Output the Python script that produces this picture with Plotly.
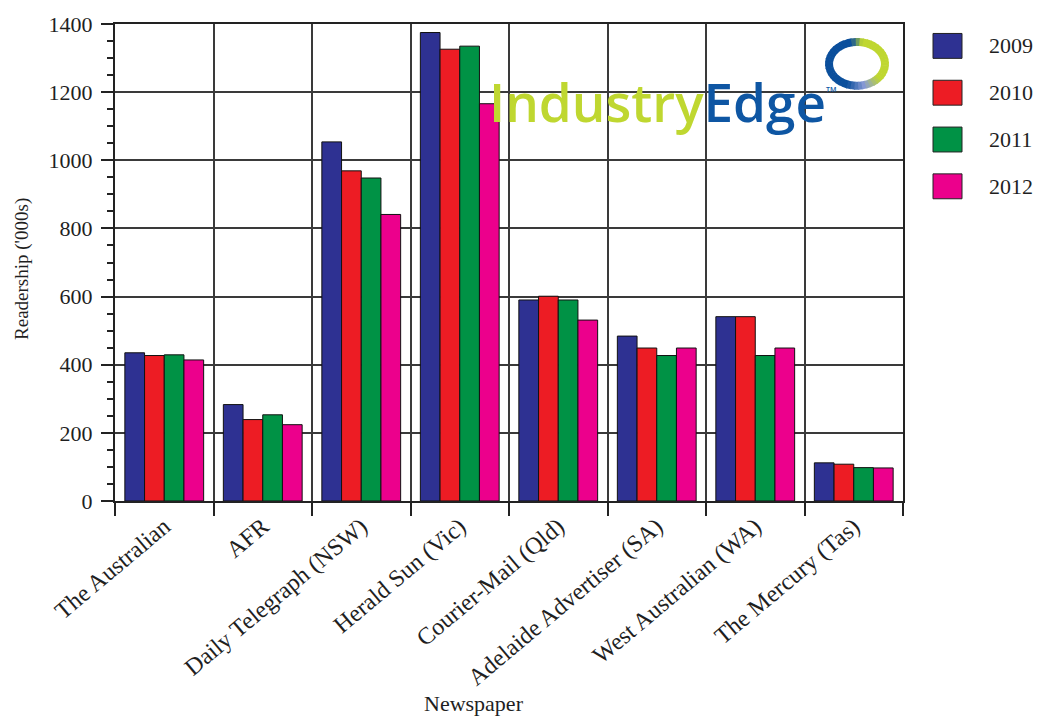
import plotly.graph_objects as go
import numpy as np

# ---------------- data ----------------
categories = ["The Australian", "AFR", "Daily Telegraph (NSW)", "Herald Sun (Vic)",
              "Courier-Mail (Qld)", "Adelaide Advertiser (SA)", "West Australian (WA)",
              "The Mercury (Tas)"]
years = ["2009", "2010", "2011", "2012"]
r2009 = [435, 283, 1054, 1375, 590, 484, 541, 112]
r2010 = [427, 239, 969, 1326, 601, 449, 541, 108]
r2011 = [429, 253, 948, 1335, 590, 427, 427, 98]
r2012 = [414, 224, 841, 1166, 531, 449, 449, 97]
series = [r2009, r2010, r2011, r2012]
colors = ["#2E3192", "#ED1C24", "#009245", "#EC008C"]
y_ticks = [0, 200, 400, 600, 800, 1000, 1200, 1400]

# ---------------- layout geometry ----------------
W, H = 1045, 717
ML, MR, MT, MB = 115, 142, 22, 216
PW, PH = W - ML - MR, H - MT - MB


def px(x):
    return (x - ML) / PW


def py(y):
    return (H - MB - y) / PH


SERIF = "Liberation Serif"
TXT = "#1f1f1f"

fig = go.Figure()
for name, vals, col in zip(years, series, colors):
    fig.add_trace(go.Bar(
        x=categories, y=vals, name=name, showlegend=False,
        marker=dict(color=col, line=dict(color="#111", width=1)),
    ))

shapes = []
annotations = []

# manual legend
for i, (name, col) in enumerate(zip(years, colors)):
    cy = 44 + 47 * i
    shapes.append(dict(type="rect", xref="paper", yref="paper",
                       x0=px(933), x1=px(962), y0=py(cy + 12.5), y1=py(cy - 12.5),
                       fillcolor=col, line=dict(color="#222", width=1)))
    annotations.append(dict(text=name, xref="paper", yref="paper", x=px(987), y=py(cy),
                            xanchor="left", yanchor="middle", showarrow=False,
                            font=dict(family=SERIF, size=22, color=TXT)))

# logo text
annotations.append(dict(
    text="<span style='color:#BFD730'>Industry</span><span style='color:#0E56A3'>Edge</span>"
         "<span style='color:#0E56A3;font-size:7px;baseline-shift:30px'>TM</span>",
    xref="paper", yref="paper", x=px(662), y=py(100), xanchor="center", yanchor="middle",
    showarrow=False, font=dict(family="Open Sans", size=53, weight=600)))

# logo ring (decoration)
def mix(c1, c2, t):
    a = [int(c1[i:i + 2], 16) for i in (1, 3, 5)]
    b = [int(c2[i:i + 2], 16) for i in (1, 3, 5)]
    return "#%02x%02x%02x" % tuple(int(round(a[k] + (b[k] - a[k]) * t)) for k in range(3))


cx, cyr, rxo, ryo, th = 857, 62, 32, 26, 8
stops = [(-260, "#0B4F9C"), (-110, "#0B4F9C"), (-75, "#8A9BD6"), (-40, "#BFD730"),
         (80, "#BFD730"), (100, "#0B4F9C")]
n = 48
angs = np.linspace(-260, 100, n + 1)


def ept(a, r_x, r_y):
    return px(cx + r_x * np.cos(np.radians(a))), py(cyr - r_y * np.sin(np.radians(a)))


for k in range(n):
    a0, a1 = angs[k], angs[k + 1] + 1.5
    am = (angs[k] + angs[k + 1]) / 2
    for j in range(len(stops) - 1):
        if stops[j][0] <= am <= stops[j + 1][0]:
            t = (am - stops[j][0]) / (stops[j + 1][0] - stops[j][0])
            col = mix(stops[j][1], stops[j + 1][1], t)
            break
    pts = [ept(a0, rxo, ryo), ept(a1, rxo, ryo), ept(a1, rxo - th, ryo - th), ept(a0, rxo - th, ryo - th)]
    path = "M " + " L ".join("%.5f,%.5f" % p for p in pts) + " Z"
    shapes.append(dict(type="path", xref="paper", yref="paper", path=path,
                       fillcolor=col, line=dict(width=0)))

# axis titles
annotations.append(dict(text="Readership ('000s)", xref="paper", yref="paper",
                        x=px(22), y=py(268), textangle=-90, showarrow=False,
                        xanchor="center", yanchor="middle",
                        font=dict(family=SERIF, size=19, color=TXT)))
annotations.append(dict(text="Newspaper", xref="paper", yref="paper",
                        x=px(474), y=py(704), showarrow=False,
                        xanchor="center", yanchor="middle",
                        font=dict(family=SERIF, size=22, color=TXT)))

fig.update_layout(
    width=W, height=H,
    margin=dict(l=ML, r=MR, t=MT, b=MB, pad=0),
    paper_bgcolor="white", plot_bgcolor="white",
    barmode="group", bargap=0.2, bargroupgap=0,
    shapes=shapes, annotations=annotations,
    xaxis=dict(
        type="category", tickson="boundaries",
        showgrid=True, gridcolor="#3a3a3a", gridwidth=1.5,
        ticks="outside", ticklen=13, tickwidth=1.5, tickcolor="#222",
        tickangle=-40, tickfont=dict(family=SERIF, size=24, color=TXT),
        showline=True, linecolor="#222", linewidth=2, mirror=True,
        range=[-0.5, len(categories) - 0.5],
    ),
    yaxis=dict(
        range=[0, 1400], tickvals=y_ticks,
        showgrid=True, gridcolor="#3a3a3a", gridwidth=1.5,
        ticks="outside", ticklen=12, tickwidth=1.5, tickcolor="#222",
        minor=dict(dtick=50, ticks="outside", ticklen=6, tickcolor="#222", showgrid=False),
        tickfont=dict(family=SERIF, size=22, color=TXT),
        showline=True, linecolor="#222", linewidth=2, mirror=True,
        zeroline=False, ticklabelstandoff=4,
    ),
)

fig.write_html("out.html", config={"displayModeBar": False},
               post_script="document.body.style.margin='0px';document.body.style.overflow='hidden';")
